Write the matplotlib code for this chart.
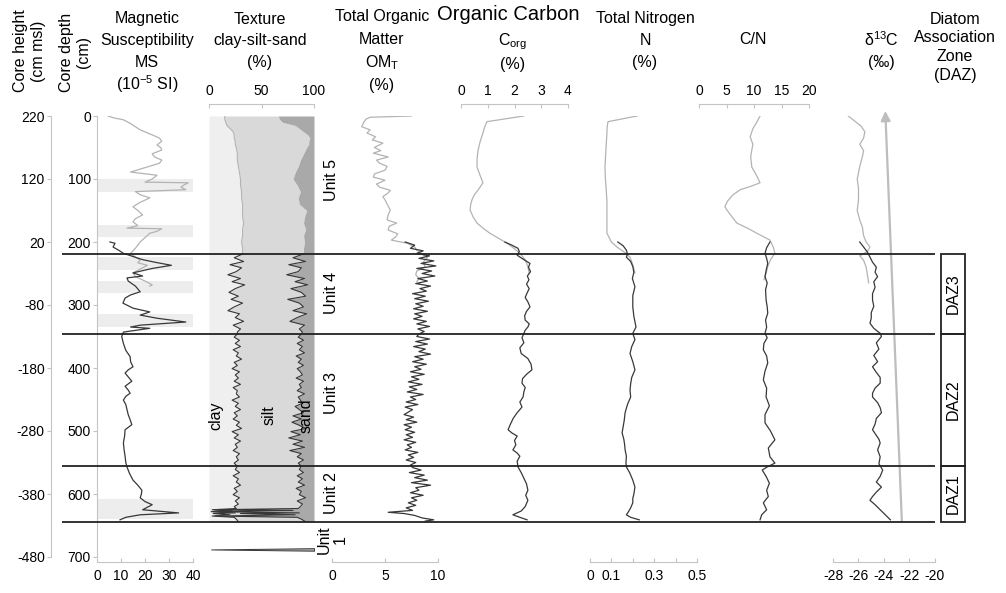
import matplotlib
matplotlib.use("Agg")
import matplotlib.pyplot as plt
from matplotlib.patches import Rectangle

plt.rcParams['font.family'] = ['Liberation Sans', 'DejaVu Sans']
plt.rcParams['mathtext.fontset'] = 'custom'
plt.rcParams['mathtext.rm'] = 'Liberation Sans'
plt.rcParams['mathtext.it'] = 'Liberation Sans'

# ---------------- data (depth in cm) ----------------
# magnetic susceptibility, upper core (grey) and lower core (black)
ms_up_d = [0, 3, 6, 12, 22, 30, 35, 40, 46, 50, 54, 60, 65, 70, 75, 82, 89, 94, 100, 105,
           106, 110, 113, 117, 120, 125, 130, 137, 144, 150, 157, 163, 168, 174, 178, 179,
           183, 186, 193, 200, 210, 218, 224, 229, 233, 237, 243, 249, 255, 262, 268, 270]
ms_up = [4.6, 7, 11, 14, 18, 23, 26, 27, 25, 26.5, 27, 23, 24, 27, 26, 20, 14, 25, 23, 20,
         38, 36, 35, 37, 16, 18, 22, 18, 15, 17, 19, 16, 15, 17, 12.5, 27,
         25, 22, 20, 18, 16, 14, 16, 18, 17, 21, 18, 15, 16, 20, 23, 22]
ms_lo_d = [200, 202, 208, 213, 218, 223, 228, 232, 237, 242, 249, 254, 257, 262, 270, 279, 284,
           289, 297, 305, 311, 316, 321, 327, 332, 335, 337, 343, 350, 361, 372, 382, 390, 398,
           403, 408, 414, 421, 429, 435, 440, 445, 451, 458, 466, 474, 482, 490, 498, 508, 519,
           530, 540, 550, 557, 567, 578, 586, 594, 600, 606, 612, 617, 621, 625, 630, 633, 637, 641]
ms_lo = [5.4, 7.5, 6.7, 9, 11, 15, 19, 24, 31, 23, 15, 19, 12.5, 13, 16, 18, 14,
         11.7, 10.8, 15, 22, 18, 25, 37, 18, 14, 22, 11, 10.3, 11, 12, 13.8, 14, 15,
         13, 11.7, 13, 14.5, 11.7, 13, 13.8, 12, 11, 12, 12.5, 13, 13.8, 14.5, 11.7, 11.5, 11,
         11.3, 11.7, 12, 12.5, 13.5, 15, 17, 18.7, 18.5, 18, 20, 23, 21, 19, 34, 18, 12, 9.6]
ms_box_top = [100, 173, 224, 262, 314, 608]
ms_box_bot = [120, 192, 244, 281, 335, 640]

# texture: cumulative clay and clay+silt (%)
tex_up_d = [0, 5, 10, 15, 20, 25, 30, 35, 40, 45, 50, 60, 70, 80, 90, 100, 110, 120, 130,
            140, 150, 160, 170, 180, 190, 200, 210, 219]
tex_up_clay = [15, 15, 16, 17, 20, 23, 24, 24, 25, 25, 26, 27, 27, 28, 29, 30, 30, 31, 31,
               32, 32, 32, 33, 32, 32, 31, 32, 32]
tex_up_cs = [66, 67, 70, 82, 86, 90, 94, 96, 95, 95, 93, 90, 87, 85, 82, 80, 84, 87, 85,
             86, 93, 91, 90, 92, 90, 91, 90, 90]
tex_lo_d = [219, 225, 231, 236, 241, 247, 252, 258, 263, 268, 274, 280, 286, 291, 297, 303,
            309, 314, 320, 326, 332, 338, 343,
            346, 351, 356, 361, 366, 371, 376, 381, 386, 391, 396, 401, 406, 411, 416, 421,
            426, 431, 436, 441, 446, 451, 456, 461, 466, 471, 476, 481, 486, 491, 496, 501,
            506, 511, 516, 521, 526, 531, 536, 541, 546, 551, 556,
            561, 566, 571, 576, 581, 586, 591, 596, 601, 606, 611, 616, 620, 623, 625, 626,
            628, 630, 631, 633, 635, 637, 640, 644]
tex_lo_clay = [32, 24, 33, 20, 31, 26, 18, 30, 22, 34, 25, 19, 28, 21, 32, 24,
               18, 29, 25, 33, 23, 30, 27,
               27, 24, 29, 25, 30, 23, 28, 26, 31, 24, 27, 22, 29, 25, 28, 24,
               30, 23, 27, 26, 29, 22, 28, 25, 30, 24, 27, 23, 29, 26, 31, 22,
               28, 24, 30, 25, 27, 23, 29, 26, 28, 24, 27,
               25, 29, 23, 28, 26, 30, 24, 27, 23, 29, 25, 28, 24, 26, 3, 22,
               2, 25, 4, 20, 3, 24, 26, 28]
tex_lo_cs = [90, 80, 92, 76, 88, 85, 74, 91, 82, 94, 78, 88, 92, 75, 86, 90,
             80, 93, 84, 77, 91, 86, 89,
             88, 85, 90, 84, 89, 86, 91, 83, 88, 85, 90, 84, 87, 89, 83, 90,
             86, 88, 84, 91, 85, 87, 89, 82, 86, 90, 80, 88, 79, 86, 92, 78,
             87, 76, 89, 80, 91, 77, 88, 84, 90, 85, 88,
             86, 90, 84, 89, 85, 91, 83, 88, 86, 92, 84, 89, 87, 85, 5, 80,
             4, 86, 30, 82, 6, 84, 88, 92]
tex_u1_d = [686, 688, 690]
tex_u1_clay = [100, 2, 100]

# total organic matter (%)
om_up_d = [0, 2, 5, 10, 17, 22, 27, 33, 38, 43, 50, 55, 59, 65, 70, 75, 80, 86, 92, 97,
           102, 108, 113, 118, 122, 128, 133, 140, 149, 157, 165, 170, 175, 181, 187, 192,
           197, 202, 208, 213, 219, 225, 232, 240, 246, 252, 258, 263]
om_up = [7.5, 3.6, 3.2, 3.0, 2.8, 3.6, 3.3, 4.1, 3.8, 4.8, 4.0, 4.6, 3.9, 5.3, 4.2, 4.5,
         5.2, 5.0, 4.0, 3.9, 5.0, 4.2, 4.5, 5.5, 5.3, 4.8, 5.0, 5.2, 5.5, 5.3, 5.2, 6.1,
         5.4, 5.3, 6.2, 6.0, 5.6, 7.1, 7.8, 8.0, 8.5, 9.0, 8.6, 8.8, 8.0, 7.9, 8.2, 8.0]
om_lo_d = [200, 205, 210, 214, 218, 222, 226, 230, 234, 238, 242, 246, 250, 254, 258, 262,
           266, 270, 274, 278, 282, 286, 290, 294, 298, 302, 306, 310, 314, 318, 322, 326,
           330, 334, 338, 342, 346,
           350, 354, 358, 362, 366, 370, 374, 378, 382, 386, 390, 394, 398, 402, 406, 410,
           414, 418, 422, 426, 430, 434, 438, 442, 446, 450, 454, 458, 462, 466, 470, 474,
           478, 482, 486, 490, 494, 498, 502, 506, 510, 514, 518, 522, 526, 530, 534, 538,
           542, 546, 550, 554,
           558, 562, 566, 570, 574, 578, 582, 586, 590, 594, 598, 602, 606, 610, 614, 618,
           622, 626, 629, 631, 634, 638, 641, 643]
om_lo = [6.9, 7.8, 7.4, 8.6, 8.0, 9.2, 8.2, 9.6, 8.4, 9.8, 8.0, 9.4, 8.5, 9.7, 8.1, 9.0,
         7.9, 9.3, 8.3, 8.9, 7.6, 8.8, 7.8, 9.1, 7.9, 8.6, 7.7, 9.0, 7.8, 8.5, 7.7, 8.9,
         8.0, 9.2, 8.1, 8.7, 8.2,
         8.0, 9.2, 7.9, 9.0, 7.7, 8.8, 8.2, 9.3, 7.8, 8.6, 7.6, 8.9, 7.8, 8.4, 7.4, 8.7,
         7.5, 8.2, 7.2, 8.5, 7.3, 8.0, 7.1, 8.6, 7.4, 7.9, 7.0, 8.1, 6.9, 7.6, 7.2, 6.8,
         7.7, 7.0, 8.0, 6.8, 7.5, 6.9, 7.8, 7.0, 7.6, 6.8, 7.9, 7.1, 7.5, 6.9, 8.1, 7.2,
         7.7, 7.0, 7.9, 7.4,
         7.6, 8.4, 7.3, 8.7, 7.8, 9.0, 7.5, 9.3, 7.9, 8.2, 7.4, 8.6, 7.5, 8.0, 7.2, 7.9,
         7.0, 7.6, 5.3, 6.8, 7.8, 8.5, 9.6, 8.8]

# organic carbon (%)
corg_up_d = [0, 9, 18, 27, 40, 54, 68, 81, 95, 106, 115, 125, 133, 141, 149, 160, 170,
             178, 186, 194, 202, 210, 218, 228, 239, 250]
corg_up = [2.35, 0.97, 0.88, 0.82, 0.72, 0.64, 0.6, 0.6, 0.72, 0.82, 0.68, 0.5, 0.41,
           0.36, 0.34, 0.45, 0.6, 0.82, 1.08, 1.4, 1.72, 1.98, 2.2, 2.4, 2.5, 2.55]
corg_lo_d = [200, 205, 210, 215, 221, 228, 234, 240, 247, 254, 260, 267, 274, 281, 288,
             295, 303, 310, 317, 324, 330, 335, 340, 345, 352, 360, 368, 377, 385, 394,
             403, 410, 417, 424, 431, 438, 446, 454, 462, 471, 480, 489, 498, 503, 508,
             515, 522, 530, 535, 540, 548, 557, 566, 575, 584, 594, 602, 610, 620, 627,
             633, 637, 641]
corg_lo = [1.64, 1.9, 2.13, 2.18, 2.1, 2.35, 2.58, 2.52, 2.6, 2.48, 2.54, 2.45, 2.55, 2.47,
           2.4, 2.5, 2.58, 2.45, 2.38, 2.4, 2.55, 2.5, 2.4, 2.35, 2.28, 2.35, 2.2, 2.25,
           2.5, 2.62, 2.65, 2.45, 2.3, 2.28, 2.4, 2.35, 2.32, 2.2, 2.28, 2.1, 1.95, 1.85,
           1.76, 1.9, 2.1, 2.0, 2.05, 1.94, 2.1, 2.2, 2.1, 2.13, 2.25, 2.35, 2.45, 2.5,
           2.42, 2.5, 2.4, 2.25, 1.94, 2.2, 2.47]

# total nitrogen (%)
n_up_d = [0, 9, 18, 27, 50, 81, 100, 133, 160, 186, 200, 208, 216, 224, 236, 249]
n_up = [0.22, 0.084, 0.08, 0.079, 0.075, 0.07, 0.072, 0.079, 0.079, 0.079, 0.1, 0.126,
        0.16, 0.187, 0.2, 0.21]
n_lo_d = [200, 206, 213, 219, 224, 231, 239, 248, 258, 271, 285, 303, 318, 335, 345, 355,
          366, 377, 390, 403, 415, 425, 435, 446, 458, 471, 483, 493, 503, 513, 522, 530,
          540, 550, 557, 566, 578, 589, 600, 607, 614, 622, 628, 633, 637, 641]
n_lo = [0.13, 0.155, 0.17, 0.175, 0.17, 0.19, 0.2, 0.205, 0.198, 0.21, 0.2, 0.2, 0.205,
        0.215, 0.2, 0.21, 0.195, 0.187, 0.2, 0.21, 0.195, 0.19, 0.187, 0.19, 0.175, 0.164,
        0.16, 0.155, 0.15, 0.158, 0.162, 0.164, 0.17, 0.168, 0.17, 0.185, 0.2, 0.21, 0.205,
        0.2, 0.2, 0.19, 0.18, 0.17, 0.19, 0.23]

# C/N
cn_up_d = [0, 10, 20, 33, 45, 54, 65, 81, 95, 106, 112, 117, 125, 135, 144, 152, 160, 170,
           178, 186, 197, 208, 218, 228, 239, 250, 260]
cn_up = [11.1, 10.5, 9.8, 9.3, 9.8, 9.6, 9.4, 9.6, 10.5, 11.1, 9.3, 7.5, 6.2, 5.2, 4.7,
         5.3, 6.0, 6.9, 8.8, 10.5, 12.9, 13.5, 13.8, 13.0, 12.5, 12.2, 11.8]
cn_lo_d = [200, 209, 218, 226, 234, 245, 255, 265, 276, 292, 303, 313, 324, 335, 345, 352,
           361, 371, 381, 392, 405, 419, 432, 446, 460, 474, 487, 500, 514, 527, 541, 551,
           557, 562, 572, 583, 594, 604, 614, 625, 633, 641]
cn_lo = [12.9, 12.3, 12.0, 12.3, 12.5, 12.2, 12.0, 12.4, 12.1, 12.2, 12.4, 12.5, 12.1, 12.3,
         12.0, 12.4, 11.8, 11.7, 12.3, 12.5, 12.0, 11.7, 12.3, 12.2, 12.8, 12.0, 12.0, 13.0,
         13.8, 12.6, 12.9, 13.8, 12.4, 11.5, 12.2, 12.8, 12.3, 12.6, 11.7, 12.3, 11.4, 11.1]

# delta 13C (permil)
d13_up_d = [0, 8, 16, 25, 35, 45, 55, 65, 80, 100, 115, 133, 150, 165, 176, 190, 200, 208,
            215, 222, 229, 240, 252, 265]
d13_up = [-26.8, -26.3, -25.8, -25.5, -25.6, -25.9, -25.6, -25.7, -25.9, -26.1, -26.0,
          -26.0, -26.1, -25.9, -25.7, -25.6, -25.4, -25.1, -25.3, -25.9, -25.6, -25.4,
          -25.3, -25.2]
d13_lo_d = [200, 208, 216, 224, 232, 240, 248, 255, 263, 272, 282, 292, 302, 312, 321, 329,
            337, 345, 350, 360, 370, 380, 390, 398, 407, 415, 424, 432, 440, 446, 455, 463,
            471, 480, 489, 498, 507, 513, 519, 530, 541, 552, 562, 572, 581, 589, 597, 604,
            610, 617, 625, 633, 641]
d13_lo = [-25.9, -25.6, -25.3, -25.1, -24.9, -24.6, -24.7, -24.5, -24.8, -24.7, -24.9,
          -24.9, -24.8, -25.0, -25.0, -25.1, -24.8, -24.3, -24.2, -24.6, -24.4, -24.8,
          -24.5, -24.9, -24.6, -24.3, -24.3, -24.7, -24.9, -24.9, -24.5, -24.3, -24.2,
          -24.6, -24.7, -24.9, -24.6, -24.4, -24.3, -24.5, -24.3, -24.4, -24.1, -24.3,
          -24.6, -24.2, -24.6, -24.9, -25.1, -24.7, -24.3, -23.9, -23.5]
arrow_d13 = [-22.6, -23.9]
arrow_depth = [644, -8]

unit_bounds = [219, 346, 556, 644]
unit_names = ["Unit 5", "Unit 4", "Unit 3", "Unit 2", "Unit\n1"]
unit_mid = [102, 281, 440, 598, 673]
daz_names = ["DAZ3", "DAZ2", "DAZ1"]
daz_top = [219, 346, 556]
daz_bot = [346, 556, 644]

# ---------------- layout ----------------
W, H = 1006, 593
Y0, Y1 = 116, 557
fig = plt.figure(figsize=(W / 100, H / 100), dpi=100)
AXC = "#c4c4c4"
BLK = "#383838"
GRY = "#b3b3b3"
FS = 11.5
TFS = 10


def rect(x0, x1):
    return [x0 / W, 1 - Y1 / H, (x1 - x0) / W, (Y1 - Y0) / H]


def panel(x0, x1, xlim, ticks, labels, where):
    ax = fig.add_axes(rect(x0, x1))
    ax.set_xlim(*xlim)
    ax.set_ylim(700, 0)
    ax.patch.set_alpha(0)
    for s in ax.spines.values():
        s.set_visible(False)
    ax.set_yticks([])
    sp = ax.spines[where]
    sp.set_visible(True)
    sp.set_color(AXC)
    sp.set_position(("outward", (12 if where == "top" else 5) * 0.72))
    ax.xaxis.set_ticks_position(where)
    ax.set_xticks(ticks)
    ax.set_xticklabels(labels)
    ax.tick_params(axis="x", direction="in", length=3, color=AXC,
                   labelsize=TFS, pad=4 if where == "top" else 5)
    return ax


def ytext(px, py, s, **kw):
    fig.text(px / W, 1 - py / H, s, ha="center", va="center", **kw)


# core height axis
axh = fig.add_axes([51 / W, 1 - Y1 / H, 0.001, (Y1 - Y0) / H])
axh.set_ylim(220 - 700, 220)
for s in axh.spines.values():
    s.set_visible(False)
axh.spines["left"].set_visible(True)
axh.spines["left"].set_color(AXC)
axh.set_xticks([])
axh.set_yticks(range(-480, 221, 100))
axh.set_yticklabels([str(v) for v in range(-480, 221, 100)])
axh.tick_params(axis="y", length=3, color=AXC, labelsize=TFS, pad=1.5)

# magnetic susceptibility (with depth axis)
ax = panel(97, 193, (0, 40), [0, 10, 20, 30, 40], ["0", "10", "20", "30", "40"], "bottom")
ax.spines["left"].set_visible(True)
ax.spines["left"].set_color(AXC)
ax.set_yticks(range(0, 701, 100))
ax.set_yticklabels([str(v) for v in range(0, 701, 100)])
ax.tick_params(axis="y", length=3, color=AXC, labelsize=TFS, pad=1.5)
for t, b in zip(ms_box_top, ms_box_bot):
    ax.axhspan(t, b, color="#ededed", lw=0, zorder=0)
ax.plot(ms_up, ms_up_d, color=GRY, lw=0.9)
ax.plot(ms_lo, ms_lo_d, color=BLK, lw=0.9)

# texture
ax = panel(209, 314, (0, 100), [0, 50, 100], ["0", "50", "100"], "top")
for d, c, cs in [(tex_up_d, tex_up_clay, tex_up_cs), (tex_lo_d, tex_lo_clay, tex_lo_cs)]:
    ax.fill_betweenx(d, 0, c, color="#efefef", lw=0)
    ax.fill_betweenx(d, c, cs, color="#d9d9d9", lw=0)
    ax.fill_betweenx(d, cs, 100, color="#a9a9a9", lw=0)
ax.plot(tex_up_clay, tex_up_d, color=GRY, lw=0.8)
ax.plot(tex_lo_clay, tex_lo_d, color=BLK, lw=0.8)
ax.plot(tex_lo_cs, tex_lo_d, color=BLK, lw=0.8)
ax.fill_betweenx(tex_u1_d, tex_u1_clay, 100, color="#b0b0b0", ec=BLK, lw=0.7)
ax.text(7, 475, "clay", rotation=90, ha="center", va="center", fontsize=FS)
ax.text(57, 475, "silt", rotation=90, ha="center", va="center", fontsize=FS)
ax.text(92, 475, "sand", rotation=90, ha="center", va="center", fontsize=FS)

# organic matter
ax = panel(332, 438, (0, 10), [0, 5, 10], ["0", "5", "10"], "bottom")
ax.plot(om_up, om_up_d, color=GRY, lw=0.9)
ax.plot(om_lo, om_lo_d, color=BLK, lw=0.9)

# organic carbon
ax = panel(461, 568, (0, 4), [0, 1, 2, 3, 4], ["0", "1", "2", "3", "4"], "top")
ax.plot(corg_up, corg_up_d, color=GRY, lw=0.9)
ax.plot(corg_lo, corg_lo_d, color=BLK, lw=0.9)

# nitrogen
ax = panel(590, 697, (0, 0.5), [0, 0.1, 0.2, 0.3, 0.4, 0.5],
           ["0", "0.1", "", "0.3", "", "0.5"], "bottom")
ax.plot(n_up, n_up_d, color=GRY, lw=0.9)
ax.plot(n_lo, n_lo_d, color=BLK, lw=0.9)

# C/N
ax = panel(699, 809, (0, 20), [0, 5, 10, 15, 20], ["0", "5", "10", "15", "20"], "top")
ax.plot(cn_up, cn_up_d, color=GRY, lw=0.9)
ax.plot(cn_lo, cn_lo_d, color=BLK, lw=0.9)

# delta 13C
ax = panel(833, 935, (-28, -20), [-28, -26, -24, -22, -20],
           ["-28", "-26", "-24", "-22", "-20"], "bottom")
ax.plot(d13_up, d13_up_d, color=GRY, lw=0.9)
ax.plot(d13_lo, d13_lo_d, color=BLK, lw=0.9)
ax.annotate("", xy=(arrow_d13[1], arrow_depth[1]), xytext=(arrow_d13[0], arrow_depth[0]),
            arrowprops=dict(arrowstyle="-|>", color="#bdbdbd", lw=1.6, mutation_scale=14,
                            shrinkA=0, shrinkB=0),
            annotation_clip=False)

# overlay: unit boundaries, unit names, DAZ boxes
ov = fig.add_axes([0, 1 - Y1 / H, 1, (Y1 - Y0) / H])
ov.set_xlim(0, W)
ov.set_ylim(700, 0)
ov.axis("off")
ov.patch.set_alpha(0)
ov.hlines(unit_bounds, 62, 935, color="#222222", lw=1.3)
for name, mid in zip(unit_names, unit_mid):
    ov.text(332, mid, name, rotation=90, ha="center", va="center", fontsize=FS,
            linespacing=1.1)
for name, t, b in zip(daz_names, daz_top, daz_bot):
    ov.add_patch(Rectangle((941, t), 24, b - t, fill=False, ec="#222222", lw=1.3))
    ov.text(953, (t + b) / 2, name, rotation=90, ha="center", va="center", fontsize=FS)

# headers
ytext(30, 51, "Core height\n(cm msl)", rotation=90, fontsize=FS, linespacing=1.25)
ytext(75, 52, "Core depth\n(cm)", rotation=90, fontsize=FS, linespacing=1.25)
for i, s in enumerate(["Magnetic", "Susceptibility", "MS", "(10$^\\mathregular{-5}$ SI)"]):
    ytext(147, 19 + 21.7 * i, s, fontsize=FS)
for i, s in enumerate(["Texture", "clay-silt-sand", "(%)"]):
    ytext(260, 19 + 21.7 * i, s, fontsize=FS)
for i, s in enumerate(["Total Organic", "Matter", r"OM$_\mathregular{T}$", "(%)"]):
    ytext(382, 17 + 22.7 * i, s, fontsize=FS)
ytext(508, 15, "Organic Carbon", fontsize=14.5)
ytext(513, 42, r"C$_\mathregular{org}$", fontsize=FS)
ytext(513, 65, "(%)", fontsize=FS)
for i, s in enumerate(["Total Nitrogen", "N", "(%)"]):
    ytext(645, 18 + 22.5 * i, s, fontsize=FS)
ytext(753, 40, "C/N", fontsize=FS)
ytext(881, 40, r"δ$^\mathregular{13}$C", fontsize=FS)
ytext(881, 62, "(‰)", fontsize=FS)
for i, s in enumerate(["Diatom", "Association", "Zone", "(DAZ)"]):
    ytext(955, 19 + 18.7 * i, s, fontsize=FS)

fig.savefig("out.png", dpi=100)
